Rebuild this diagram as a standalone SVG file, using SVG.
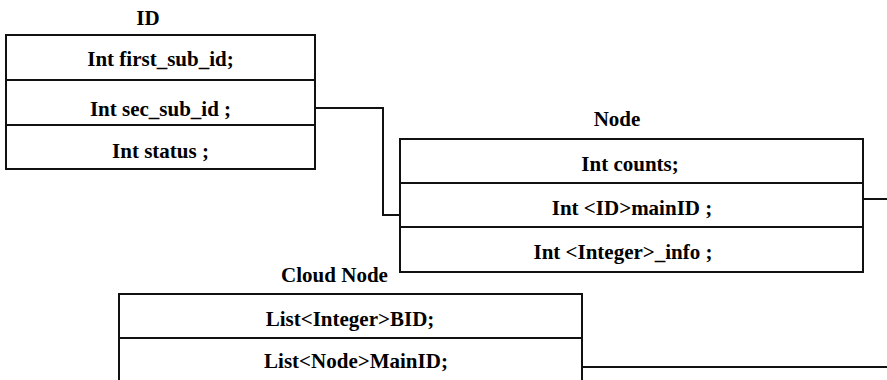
<svg xmlns="http://www.w3.org/2000/svg" width="887" height="380" viewBox="0 0 887 380">
<style>
.box{fill:#fff;stroke:#111;stroke-width:2}
.sep{stroke:#111;stroke-width:2}
.conn{fill:none;stroke:#111;stroke-width:2}
text{font-family:'Liberation Serif','Times New Roman',Times,serif;font-weight:bold;font-size:21px;fill:#000;text-anchor:middle}
</style>
<rect width="887" height="380" fill="#fff"/>
<g id="connectors">
<polyline class="conn" points="315,108 383,108 383,215 400,215"/>
<polyline class="conn" points="863,199 887,199"/>
<polyline class="conn" points="582,367 887,367"/>
</g>
<g id="node-id">
<text x="148" y="25">ID</text>
<rect class="box" x="6" y="35" width="309" height="134"/>
<line class="sep" x1="6" y1="80" x2="315" y2="80"/>
<line class="sep" x1="6" y1="125" x2="315" y2="125"/>
<text x="160.5" y="66">Int first_sub_id;</text>
<text x="160.5" y="116">Int sec_sub_id ;</text>
<text x="160.5" y="158">Int status ;</text>
</g>
<g id="node-node">
<text x="617" y="126">Node</text>
<rect class="box" x="400" y="139" width="463" height="133"/>
<line class="sep" x1="400" y1="183" x2="863" y2="183"/>
<line class="sep" x1="400" y1="227" x2="863" y2="227"/>
<text x="630" y="171">Int counts;</text>
<text x="632" y="215">Int &lt;ID&gt;mainID ;</text>
<text x="623" y="259">Int &lt;Integer&gt;_info ;</text>
</g>
<g id="node-cloud">
<text x="334.5" y="282">Cloud Node</text>
<rect class="box" x="119" y="294" width="463" height="100"/>
<line class="sep" x1="119" y1="338" x2="582" y2="338"/>
<text x="350" y="326">List&lt;Integer&gt;BID;</text>
<text x="356" y="368">List&lt;Node&gt;MainID;</text>
</g>
</svg>
